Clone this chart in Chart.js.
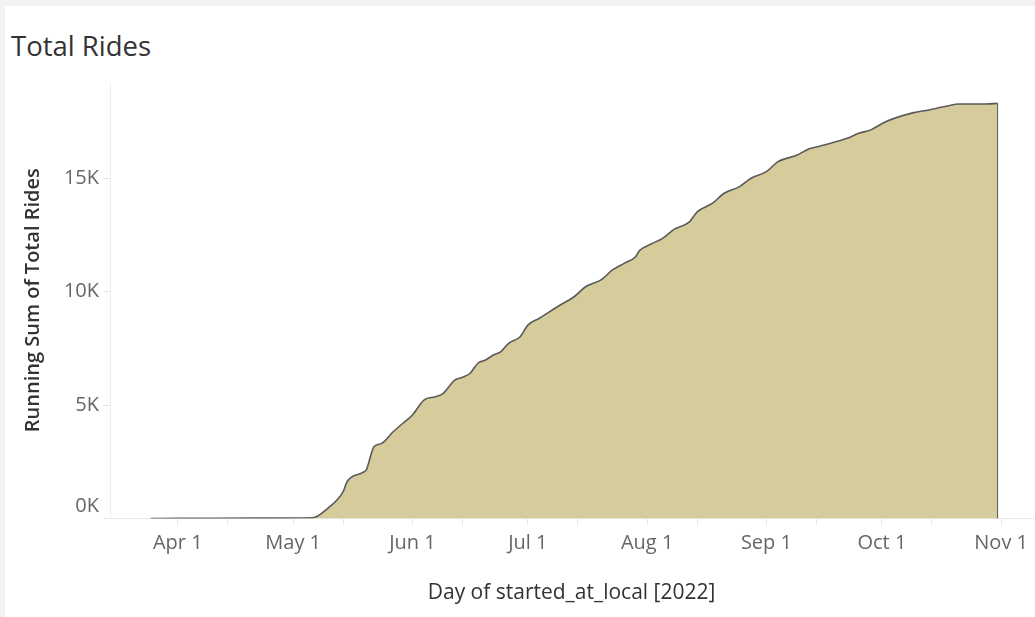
<!DOCTYPE html>
<html>
<head>
<meta charset="utf-8">
<script src="https://cdn.jsdelivr.net/npm/chart.js@4.4.0/dist/chart.umd.min.js"></script>
<style>
  html, body { margin: 0; padding: 0; background: #f3f3f3; overflow: hidden; }
  #panel { position: absolute; left: 5px; top: 6px; width: 1030px; height: 611px; background: #fff; }
  #title { position: absolute; left: 11px; top: 27px; font-family: 'Open Sans', sans-serif; font-size: 27.5px; color: #333; }
  #chart { position: absolute; left: 0; top: 0; }
</style>
</head>
<body>
<div id="panel"></div>
<div id="title">Total Rides</div>
<canvas id="chart" width="1035" height="617"></canvas>
<script>
// Day of year (Jan 1 = 0) and running sum of rides
const dayOfYear = [83, 90, 100, 110, 120, 125, 129, 133, 134, 138, 139, 141, 143, 146, 148, 151,
  154, 157, 159, 162, 164, 166, 168, 170, 172, 174, 176, 179, 181, 184, 186, 189, 193, 196,
  200, 203, 206, 209, 210, 213, 216, 219, 223, 225, 229, 232, 236, 239, 243, 246, 251, 254,
  257, 262, 264, 267, 270, 274, 281, 284, 290, 293, 300, 303];
const runningSum = [0, 5, 10, 15, 20, 30, 450, 1180, 1620, 2020, 2140, 3160, 3310, 3820, 4120, 4560,
  5220, 5365, 5515, 6100, 6220, 6400, 6840, 6980, 7200, 7350, 7720, 8010, 8520, 8820, 9040, 9360, 9770, 10210,
  10510, 10950, 11240, 11530, 11800, 12090, 12340, 12740, 13070, 13510, 13890, 14330, 14620, 14990, 15280, 15720, 16010, 16280,
  16410, 16640, 16750, 16970, 17110, 17480, 17870, 17960, 18170, 18260, 18260, 18290];

// Axis ticks
const monthTicks = [90, 120, 151, 181, 212, 243, 273, 304];
const monthLabels = ['Apr 1', 'May 1', 'Jun 1', 'Jul 1', 'Aug 1', 'Sep 1', 'Oct 1', 'Nov 1'];
const midTicks = [103, 133, 164, 194, 225, 256, 286];
const yTicks = [0, 5000, 10000, 15000];

const points = dayOfYear.map((d, i) => ({ x: d, y: runningSum[i] }));
const last = points[points.length - 1];

const tickFont = { family: 'Open Sans', size: 20 };

new Chart(document.getElementById('chart'), {
  type: 'line',
  data: {
    datasets: [{
      data: points,
      borderColor: '#5a5a5a',
      borderWidth: 1.6,
      backgroundColor: '#d6cb9b',
      fill: 'origin',
      pointRadius: 0,
      cubicInterpolationMode: 'monotone'
    }, {
      // closing edge of the area at the last day
      data: [{ x: last.x, y: last.y }, { x: last.x, y: 0 }],
      borderColor: '#5a5a5a',
      borderWidth: 1.6,
      pointRadius: 0,
      fill: false,
      tension: 0
    }]
  },
  options: {
    responsive: false,
    animation: false,
    layout: { padding: { left: 20, top: 82, right: 0, bottom: 8 } },
    plugins: { legend: { display: false }, tooltip: { enabled: false } },
    scales: {
      x: {
        type: 'linear',
        min: 72.4,
        max: 312.3,
        afterBuildTicks: scale => {
          scale.ticks = monthTicks.concat(midTicks).sort((a, b) => a - b).map(v => ({ value: v }));
        },
        afterFit: scale => { scale.height = 90.5; },
        ticks: {
          autoSkip: false,
          maxRotation: 0,
          padding: 7,
          color: '#666',
          font: tickFont,
          callback: v => {
            const i = monthTicks.indexOf(v);
            return i >= 0 ? monthLabels[i] : '';
          }
        },
        grid: { drawOnChartArea: false, drawTicks: true, tickLength: 6, color: '#e6e6e6' },
        border: { color: '#e6e6e6' },
        title: {
          display: true,
          text: 'Day of started_at_local [2022]',
          color: '#333',
          font: { family: 'Open Sans', size: 21 },
          padding: { top: 0, bottom: 3 }
        }
      },
      y: {
        min: 0,
        max: 19230,
        afterBuildTicks: scale => { scale.ticks = yTicks.map(v => ({ value: v })); },
        afterFit: scale => { scale.width = 90; },
        ticks: {
          padding: 4,
          color: '#666',
          font: tickFont,
          // the bottom label sits above the axis line, as in the original
          callback: v => v === 0 ? ['0K', ''] : (v / 1000) + 'K'
        },
        grid: { drawOnChartArea: false, drawTicks: true, tickLength: 7, color: '#e6e6e6' },
        border: { color: '#eeeeee' },
        title: {
          display: true,
          text: 'Running Sum of Total Rides',
          color: '#333',
          font: { family: 'Open Sans', size: 20, weight: '600' },
          padding: { top: 1, bottom: 0 }
        }
      }
    }
  }
});
</script>
</body>
</html>
